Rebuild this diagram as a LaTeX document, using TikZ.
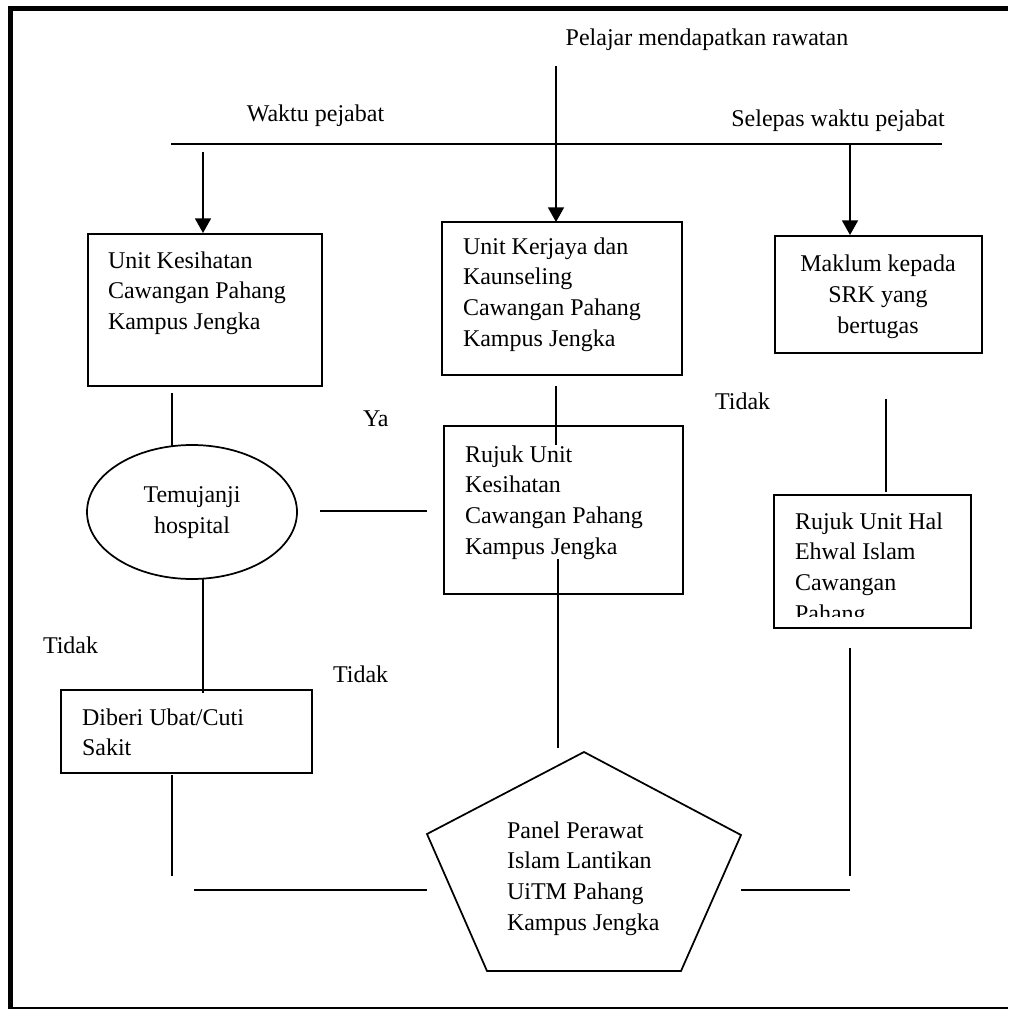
\documentclass[tikz,border=0pt]{standalone}
\usepackage{fontspec}
\setmainfont{Liberation Serif}
\usetikzlibrary{arrows.meta,fit,shapes.geometric}
\newcommand{\linesL}[1]{\begin{tabular}[t]{@{}l@{}}#1\end{tabular}}
\newcommand{\linesC}[1]{\begin{tabular}[t]{@{}c@{}}#1\end{tabular}}
\begin{document}
\begin{tikzpicture}[x=0.75pt,y=-0.75pt,
  font=\fontsize{18}{23.1}\selectfont,
  ln/.style={line width=1.3pt},
  arr/.style={ln,-{Triangle[width=12pt,length=11pt]}},
  box/.style={draw,line width=1.3pt,inner sep=0pt,outer sep=0pt},
  txt/.style={inner sep=0pt,outer sep=0pt}]
\useasboundingbox (0,0) rectangle (1008,1009);
% frame
\draw[line width=3.75pt,line join=miter] (10.5,1009) -- (10.5,8.5) -- (1008,8.5);
\draw[line width=1.3pt] (8,1008) -- (1008,1008);

% top texts
\node[txt,anchor=base] (tpel) at (707,46) {Pelajar mendapatkan rawatan};
\node[txt,anchor=base] (twak) at (315.5,122) {Waktu pejabat};
\node[txt,anchor=base] (tsel) at (838,127) {Selepas waktu pejabat};

% boxes
\node[box,fit={(88,234)(322,386)}] (b1) {};
\node[box,fit={(442,222)(682,375)}] (b2) {};
\node[box,fit={(775,236)(982,353)}] (b3) {};
\node[box,fit={(444,426)(683,594)}] (b4) {};
\node[box,fit={(774,495)(971,628)}] (b5) {};
\node[box,fit={(61,690)(312,773)}] (b6) {};
\node[draw,line width=1.3pt,ellipse,inner sep=0pt,minimum width=157.5pt,minimum height=100.5pt] (el) at (192,512)
  {\raisebox{2.1pt}{\linesC{Temujanji\\hospital}}};

% box texts
\node[txt,anchor=base west] (t1) at (108,268) {\linesL{Unit Kesihatan\\Cawangan Pahang\\Kampus Jengka}};
\node[txt,anchor=base west] (t2) at (463,254) {\linesL{Unit Kerjaya dan\\Kaunseling\\Cawangan Pahang\\Kampus Jengka}};
\node[txt,anchor=base] (t3) at (878,272) {\linesC{Maklum kepada\\SRK yang\\bertugas}};
\node[txt,anchor=base west] (t4) at (465,462) {\linesL{Rujuk Unit\\Kesihatan\\Cawangan Pahang\\Kampus Jengka}};
\begin{scope}
\clip (774,495) rectangle (971,616);
\node[txt,anchor=base west] (t5) at (795,529) {\linesL{Rujuk Unit Hal\\Ehwal Islam\\Cawangan\\Pahang}};
\end{scope}
\node[txt,anchor=base west] (t6) at (82,725) {\linesL{Diberi Ubat/Cuti\\Sakit}};

% pentagon
\coordinate (p1) at (584,752);
\coordinate (p2) at (741,835);
\coordinate (p3) at (681,971);
\coordinate (p4) at (487,971);
\coordinate (p5) at (427,834);
\draw[ln,line join=miter] (p1) -- (p2) -- (p3) -- (p4) -- (p5) -- cycle;
\node[txt,anchor=base west] (tp) at (507,838) {\linesL{Panel Perawat\\Islam Lantikan\\UiTM Pahang\\Kampus Jengka}};

% labels
\node[txt,anchor=base west] (lya) at (363,426) {Ya};
\node[txt,anchor=base west] (ltd1) at (715,409) {Tidak};
\node[txt,anchor=base west] (ltd2) at (43,653) {Tidak};
\node[txt,anchor=base west] (ltd3) at (333,682) {Tidak};

% connector end points
\coordinate (c0a) at (556,66);   \coordinate (c0b) at (556,222);
\coordinate (hla) at (171,144);  \coordinate (hlb) at (942,144);
\coordinate (c1a) at (203,152);  \coordinate (c1b) at (203,233);
\coordinate (c3a) at (850,144);  \coordinate (c3b) at (850,235);
\coordinate (c4a) at (172,393);  \coordinate (c4b) at (172,446);
\coordinate (c5a) at (556,386);  \coordinate (c5b) at (556,445);
\coordinate (c6a) at (320,511);  \coordinate (c6b) at (427,511);
\coordinate (c7a) at (558,559);  \coordinate (c7b) at (558,748);
\coordinate (c8a) at (886,399);  \coordinate (c8b) at (886,492);
\coordinate (c9a) at (850,648);  \coordinate (c9b) at (850,876);
\coordinate (c10a) at (741,890); \coordinate (c10b) at (850,890);
\coordinate (c11a) at (203,579); \coordinate (c11b) at (203,693);
\coordinate (c12a) at (172,775); \coordinate (c12b) at (172,876);
\coordinate (c13a) at (194,890); \coordinate (c13b) at (427,890);

\draw[arr] (c0a) -- (c0b);
\draw[ln] (hla) -- (hlb);
\draw[arr] (c1a) -- (c1b);
\draw[arr] (c3a) -- (c3b);
\draw[ln] (c4a) -- (c4b);
\draw[ln] (c5a) -- (c5b);
\draw[ln] (c6a) -- (c6b);
\draw[ln] (c7a) -- (c7b);
\draw[ln] (c8a) -- (c8b);
\draw[ln] (c9a) -- (c9b);
\draw[ln] (c10a) -- (c10b);
\draw[ln] (c11a) -- (c11b);
\draw[ln] (c12a) -- (c12b);
\draw[ln] (c13a) -- (c13b);
\end{tikzpicture}
\end{document}
